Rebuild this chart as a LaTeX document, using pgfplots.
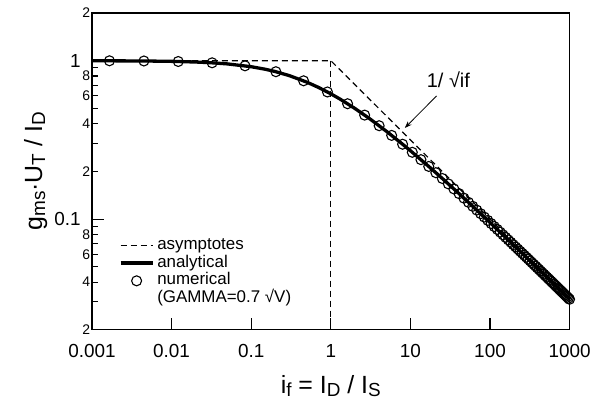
\documentclass[border=0pt]{standalone}
\usepackage{fontspec}
\setmainfont{Liberation Sans}
\usepackage{pgfplots}
\pgfplotsset{compat=1.18}
\usetikzlibrary{arrows.meta}
\newcommand\sub[1]{\raisebox{-3bp}{\fontsize{19}{19}\selectfont #1}}

\pgfplotstableread{
x y
0.001660 0.99835
0.004498 0.99554
0.012134 0.98815
0.03233 0.9696
0.08370 0.92793
0.2044 0.8517
0.4552 0.7464
0.9076 0.6346
1.6262 0.5348
2.6611 0.4533
4.0488 0.3886
5.8152 0.33752
7.9800 0.29684
10.557 0.26403
13.558 0.23720
16.992 0.21495
20.865 0.19627
25.184 0.18040
29.953 0.16679
35.176 0.15499
40.857 0.14469
47.002 0.13561
53.607 0.12757
60.678 0.12040
68.217 0.11397
76.228 0.10816
84.709 0.10291
93.664 0.09813
103.09 0.09376
112.99 0.08975
123.37 0.08607
134.23 0.08267
145.57 0.07952
157.39 0.07660
169.68 0.07388
182.46 0.07134
195.71 0.06897
209.45 0.06675
223.68 0.06467
238.39 0.06270
253.57 0.06086
269.25 0.05911
285.40 0.05747
302.05 0.05591
319.17 0.05443
336.79 0.05303
354.90 0.05169
373.49 0.05042
392.56 0.04921
412.12 0.04806
432.17 0.04696
452.71 0.04591
473.74 0.04490
495.26 0.04394
517.26 0.04301
539.76 0.04213
562.74 0.04128
586.21 0.04046
610.17 0.03967
634.62 0.03892
659.56 0.03819
684.99 0.03748
710.92 0.03681
737.33 0.03616
764.24 0.03552
791.63 0.03492
819.52 0.03433
847.89 0.03376
876.76 0.03321
906.12 0.03267
935.98 0.03216
966.32 0.03166
997.15 0.03117
}\numerical

\pgfplotstableread{
x y
0.001 0.99900
0.0045 0.99554
0.01 0.99020
0.02 0.98076
0.03 0.97170
0.05 0.95445
0.1 0.91608
0.15 0.88302
0.2 0.85410
0.3 0.80540
0.5 0.73205
0.7 0.67811
1 0.61803
1.3 0.57307
2 0.50000
3 0.43426
5 0.35826
7.98 0.29684
10 0.27016
16.992 0.21495
25.184 0.18040
40.857 0.14469
60.678 0.12040
100 0.09512
200 0.06826
500 0.04373
1000 0.03113
}\analytical

\pgfplotstableread{
x y
0.001 1
1 1
1000 0.031623
}\asym

\pgfplotstableread{
x y
1 1
1 0.02
}\vert

\begin{document}
\begin{tikzpicture}
\begin{axis}[
 name=ax,
 scale only axis, width=478bp, height=317bp,
 xmode=log, ymode=log,
 xmin=0.001, xmax=1000, ymin=0.02, ymax=2,
 clip=false,
 axis line style={line width=1.2bp},
 every tick/.style={black, line width=1.1bp},
 tick align=inside,
 xtick pos=bottom, ytick pos=left,
 xminorticks=false,
 major tick length=12bp, minor tick length=6bp,
 /pgf/number format/assume math mode=true,
 xtick={0.001,0.01,0.1,1,10,100,1000},
 xticklabels={0.001,0.01,0.1,1,10,100,1000},
 xticklabel style={font=\fontsize{19}{19}\selectfont, anchor=base, yshift=-28bp},
 ytick={0.1,1}, yticklabels={0.1,1},
 yticklabel style={font=\fontsize{19}{19}\selectfont, inner xsep=11bp},
 minor ytick={0.03,0.05,0.07,0.09,0.3,0.5,0.7,0.9},
 extra y ticks={0.02,0.04,0.06,0.08,0.2,0.4,0.6,0.8,2},
 extra y tick labels={2,4,6,8,2,4,6,8,2},
 extra y tick style={major tick length=6bp, yticklabel style={font=\fontsize{14}{14}\selectfont, inner xsep=1.5bp}},
 xlabel={i\sub{f} = I\sub{D} / I\sub{S}},
 xlabel style={font=\fontsize{25}{25}\selectfont, at={(axis description cs:0.5,-0.202)}, anchor=base},
 ylabel={g\sub{ms}·U\sub{T} / I\sub{D}},
 ylabel style={font=\fontsize{25}{25}\selectfont, at={(axis description cs:-0.118,0.5)}, anchor=center},
 legend style={at={(axis description cs:0.052,0.300)}, anchor=north west, draw=none, fill=white,
   font=\fontsize{17}{17}\selectfont, row sep=0.7bp, inner sep=2bp,
   nodes={inner ysep=0bp, inner xsep=3bp, text height=12.5bp, text depth=4.5bp}},
 legend cell align=left,
 legend image code/.code={\draw[mark repeat=2,mark phase=2,#1] plot coordinates {(0bp,0bp) (16bp,0bp) (32bp,0bp)};},
]
\addplot[black, line width=1.2bp, dash pattern=on 6bp off 4bp] table {\asym};
\addlegendentry{asymptotes}
\addplot[black, line width=1.2bp, dash pattern=on 6bp off 4bp, forget plot] table {\vert};
\addplot[black, line width=3.3bp] table {\analytical};
\addlegendentry{analytical}
\addplot[only marks, mark=o, mark size=5bp, mark options={fill=white, draw=black, line width=1.1bp}] table {\numerical};
\addlegendentry{numerical}
\addlegendimage{empty legend}
\addlegendentry{(GAMMA=0.7 √V)}
\node[fill=white, inner sep=1bp, font=\fontsize{20}{20}\selectfont] at (axis cs:30,0.756) {1/ √if};
\draw[-{Stealth[length=7bp,width=5bp]}, line width=0.8bp] (axis cs:21.3,0.599) -- (axis cs:8.5,0.376);
\end{axis}
\path ([shift={(-92bp,-78bp)}]ax.south west) rectangle ([shift={(24bp,13bp)}]ax.north east);
\end{tikzpicture}
\end{document}
